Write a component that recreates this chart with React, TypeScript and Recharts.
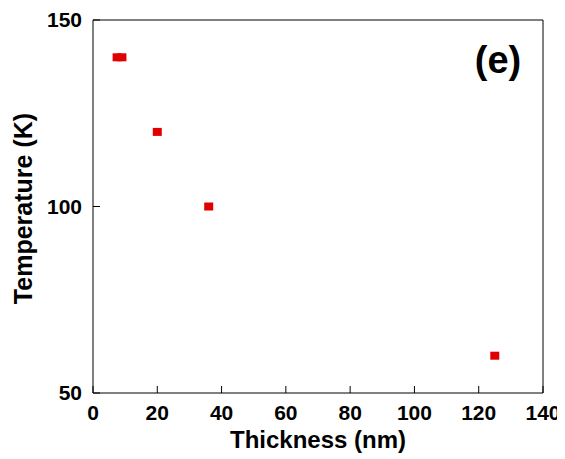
import { Label, Scatter, ScatterChart, XAxis, YAxis } from "recharts";

const thickness = [7.5, 9, 20, 36, 125];
const temperature = [140, 140, 120, 100, 60];
const xTicks = [0, 20, 40, 60, 80, 100, 120, 140];
const yTicks = [50, 100, 150];

const data = thickness.map((t, i) => ({ thickness: t, temperature: temperature[i] }));

const FONT = "'Liberation Sans', Arial, sans-serif";
const TICK_LEN = 7;
const X_MARGIN = 12;
const Y_MARGIN = 11;

const BottomTick = (props: any) => {
  const { x, y, payload } = props;
  const axisY = y - X_MARGIN;
  return (
    <g>
      <line x1={x} y1={axisY} x2={x} y2={axisY - TICK_LEN} stroke="#000" />
      <text x={x} y={y} dy="0.71em" textAnchor="middle" fontFamily={FONT} fontWeight="bold" fontSize={21} fill="#000">
        {payload.value}
      </text>
    </g>
  );
};

const LeftTick = (props: any) => {
  const { x, y, payload } = props;
  const axisX = x + Y_MARGIN;
  return (
    <g>
      <line x1={axisX} y1={y} x2={axisX + TICK_LEN} y2={y} stroke="#000" />
      <text x={x} y={y} dy="0.355em" textAnchor="end" fontFamily={FONT} fontWeight="bold" fontSize={21} fill="#000">
        {payload.value}
      </text>
    </g>
  );
};

const TopTick = (props: any) => {
  const { x, y } = props;
  return <line x1={x} y1={y} x2={x} y2={y + TICK_LEN} stroke="#000" />;
};

const RightTick = (props: any) => {
  const { x, y } = props;
  return <line x1={x} y1={y} x2={x - TICK_LEN} y2={y} stroke="#000" />;
};

const SquareMark = (props: any) => {
  const { cx, cy } = props;
  return <rect x={cx - 4.5} y={cy - 4} width={9} height={8} fill="#e00000" />;
};

export default function App() {
  return (
    <ScatterChart width={557} height={451} margin={{ top: 11, right: 21, bottom: 0, left: 0 }}>
      <XAxis
        xAxisId="bottom"
        type="number"
        dataKey="thickness"
        domain={[0, 140]}
        ticks={xTicks}
        height={66}
        tickSize={0}
        tickMargin={X_MARGIN}
        tickLine={false}
        axisLine={{ stroke: "#000" }}
        tick={<BottomTick />}
        interval={0}
      >
        <Label
          content={(p: any) => (
            <text
              x={p.viewBox.x + p.viewBox.width / 2}
              y={440}
              textAnchor="middle"
              fontFamily={FONT}
              fontWeight="bold"
              fontSize={24}
              fill="#000"
            >
              Thickness (nm)
            </text>
          )}
        />
      </XAxis>
      <XAxis
        xAxisId="top"
        orientation="top"
        type="number"
        dataKey="thickness"
        domain={[0, 140]}
        ticks={xTicks}
        height={1}
        tickSize={0}
        tickMargin={0}
        tickLine={false}
        axisLine={{ stroke: "#000" }}
        tick={<TopTick />}
        interval={0}
      >
        <Label
          content={() => (
            <text x={490} y={65} textAnchor="middle" fontFamily={FONT} fontWeight="bold" fontSize={38} fill="#000">
              (e)
            </text>
          )}
        />
      </XAxis>
      <YAxis
        yAxisId="left"
        type="number"
        dataKey="temperature"
        domain={[50, 150]}
        ticks={yTicks}
        width={85}
        tickSize={0}
        tickMargin={Y_MARGIN}
        tickLine={false}
        axisLine={{ stroke: "#000" }}
        tick={<LeftTick />}
        interval={0}
      >
        <Label
          content={(p: any) => {
            const cx = 15;
            const cy = p.viewBox.y + p.viewBox.height / 2 + 2;
            return (
              <text
                x={cx}
                y={cy}
                dy="0.355em"
                textAnchor="middle"
                transform={`rotate(-90, ${cx}, ${cy})`}
                fontFamily={FONT}
                fontWeight="bold"
                fontSize={25}
                fill="#000"
              >
                Temperature (K)
              </text>
            );
          }}
        />
      </YAxis>
      <YAxis
        yAxisId="right"
        orientation="right"
        type="number"
        dataKey="temperature"
        domain={[50, 150]}
        ticks={yTicks}
        width={1}
        tickSize={0}
        tickMargin={0}
        tickLine={false}
        axisLine={{ stroke: "#000" }}
        tick={<RightTick />}
        interval={0}
      />
      <Scatter
        data={data}
        xAxisId="bottom"
        yAxisId="left"
        shape={<SquareMark />}
        isAnimationActive={false}
      />
    </ScatterChart>
  );
}
